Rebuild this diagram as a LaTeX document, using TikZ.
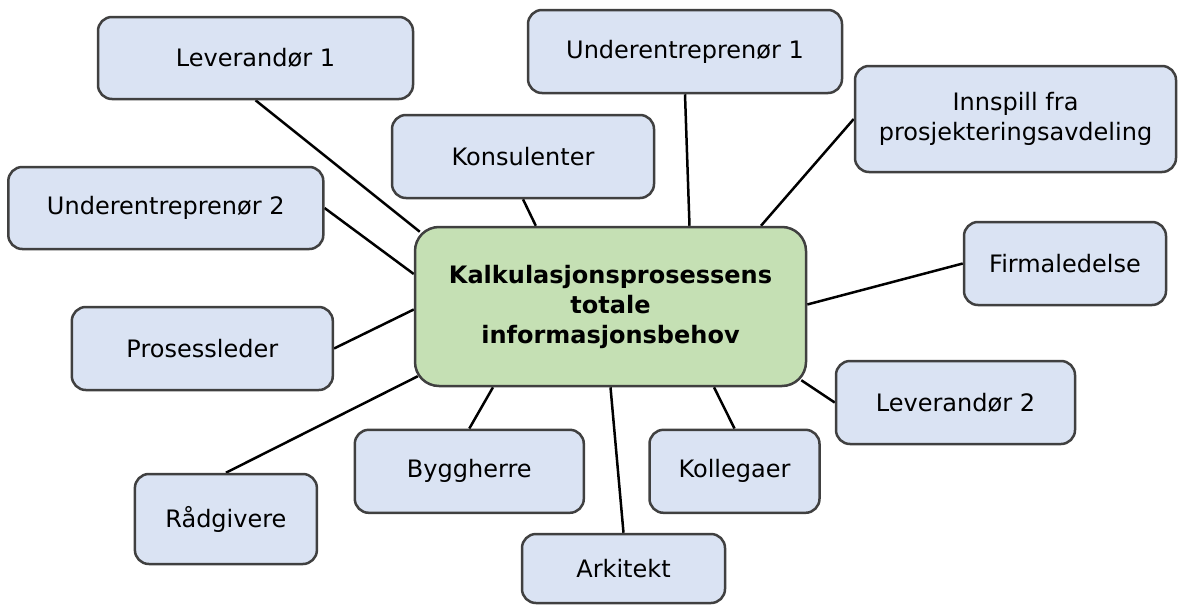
\documentclass[tikz,border=0pt]{standalone}
\usepackage{fontspec}
\setmainfont{DejaVu Sans}
\usetikzlibrary{calc,backgrounds}
\definecolor{boxblue}{HTML}{DAE3F3}
\definecolor{boxgreen}{HTML}{C5E0B4}
\definecolor{boxline}{HTML}{404040}
\tikzset{
  topic/.style={draw=boxline, line width=2.5pt, fill=boxblue, rounded corners=14pt,
    inner sep=0pt, align=center, font=\fontsize{24}{30}\selectfont},
  hub/.style={topic, fill=boxgreen, rounded corners=24pt,
    font=\bfseries\fontsize{24}{30}\selectfont},
  link/.style={line width=2.5pt, black},
}
\begin{document}
\begin{tikzpicture}[x=1pt,y=-1pt]
\useasboundingbox (0,0) rectangle (1178,605);

% central topic
\node[hub, minimum width=391pt, minimum height=159pt] (hub) at (610.5,306.5)
  {Kalkulasjonsprosessens\\totale\\informasjonsbehov};

% information sources
\node[topic, minimum width=315pt, minimum height=82pt]  (lev1)  at (255.5,58)   {Leverandør 1};
\node[topic, minimum width=314pt, minimum height=83pt]  (und1)  at (685,51.5)   {Underentreprenør 1};
\node[topic, minimum width=321pt, minimum height=106pt] (innsp) at (1015.5,119) {Innspill fra\\prosjekteringsavdeling};
\node[topic, minimum width=262pt, minimum height=83pt]  (kons)  at (523,156.5)  {Konsulenter};
\node[topic, minimum width=315pt, minimum height=82pt]  (und2)  at (165.8,208)  {Underentreprenør 2};
\node[topic, minimum width=202pt, minimum height=83pt]  (firma) at (1065,263.5) {Firmaledelse};
\node[topic, minimum width=261pt, minimum height=83pt]  (pros)  at (202.3,348.5) {Prosessleder};
\node[topic, minimum width=239pt, minimum height=83pt]  (lev2)  at (955.5,402.5) {Leverandør 2};
\node[topic, minimum width=229pt, minimum height=83pt]  (bygg)  at (469.3,471.3) {Byggherre};
\node[topic, minimum width=170pt, minimum height=83pt]  (koll)  at (734.5,471.3) {Kollegaer};
\node[topic, minimum width=182pt, minimum height=90pt]  (rad)   at (225.9,519)  {Rådgivere};
\node[topic, minimum width=203pt, minimum height=69pt]  (ark)   at (623.5,568.5) {Arkitekt};

% connectors, kept behind the boxes
\begin{scope}[on background layer]
\draw[link] (lev1.south)  -- ($(hub.north west)+(6,6)$);
\draw[link] (und1.south)  -- ($(hub.north)+(79,0)$);
\draw[link] (innsp.west)  -- ($(hub.north)+(150.5,0)$);
\draw[link] (kons.south)  -- ($(hub.north)+(-74.7,0)$);
\draw[link] (und2.east)   -- ($(hub.west)+(0,-32.5)$);
\draw[link] (firma.west)  -- ($(hub.east)+(0,-2)$);
\draw[link] (pros.east)   -- ($(hub.west)+(0,3)$);
\draw[link] (lev2.west)   -- ($(hub.south east)+(-6,-7)$);
\draw[link] (koll.north)  -- ($(hub.south)+(103.5,0)$);
\draw[link] (ark.north)   -- (hub.south);
\draw[link] (bygg.north)  -- ($(hub.south)+(-117.5,0)$);
\draw[link] (rad.north)   -- ($(hub.south west)+(4,-11)$);
\end{scope}
\end{tikzpicture}
\end{document}
